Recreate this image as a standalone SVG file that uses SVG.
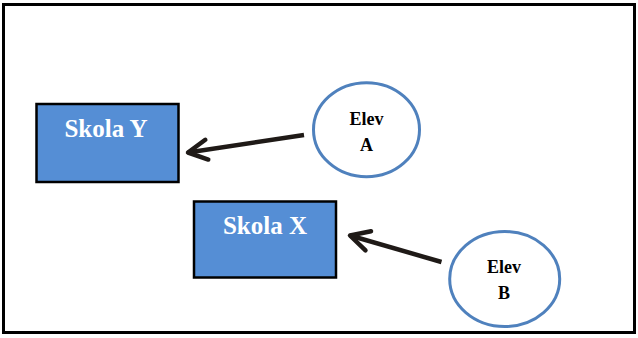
<svg xmlns="http://www.w3.org/2000/svg" width="638" height="338" viewBox="0 0 638 338">
<style>
.box{fill:#558ED5;stroke:#000;stroke-width:2.5}
.boxt{font-family:"Liberation Serif","Times New Roman",serif;font-weight:bold;font-size:25px;fill:#fff;text-anchor:middle}
.ell{fill:#fff;stroke:#4F81BD;stroke-width:3}
.ellt{font-family:"Liberation Serif","Times New Roman",serif;font-weight:bold;font-size:18px;fill:#000;text-anchor:middle}
.conn{stroke:#1F1A17;stroke-width:4.5;fill:none;marker-end:url(#ah)}
</style>
<defs>
<marker id="ah" markerUnits="userSpaceOnUse" viewBox="-26 -14 30 28" markerWidth="30" markerHeight="28" refX="0" refY="0" orient="auto">
<path d="M-19,-10 L0,0 L-19,10" fill="none" stroke="#1F1A17" stroke-width="4.5" stroke-linecap="round" stroke-linejoin="round"/>
</marker>
</defs>
<rect x="3.5" y="4.5" width="631" height="328" fill="#fff" stroke="#000" stroke-width="3"/>
<g id="skolaY">
<rect class="box" x="36.5" y="104" width="142" height="78"/>
<text class="boxt" x="106" y="137">Skola Y</text>
</g>
<g id="skolaX">
<rect class="box" x="194" y="201.5" width="142" height="76"/>
<text class="boxt" x="265" y="234">Skola X</text>
</g>
<g id="elevA">
<ellipse class="ell" cx="366.5" cy="129.7" rx="53" ry="47"/>
<text class="ellt" x="366.5" y="125">Elev</text>
<text class="ellt" x="366.5" y="151">A</text>
</g>
<g id="elevB">
<ellipse class="ell" cx="504.7" cy="279" rx="55" ry="47.5"/>
<text class="ellt" x="504" y="273">Elev</text>
<text class="ellt" x="504" y="299">B</text>
</g>
<g id="connectors">
<path class="conn" d="M304,135 L188,152.5"/>
<path class="conn" d="M441.5,262 L350,235.5"/>
</g>
</svg>
